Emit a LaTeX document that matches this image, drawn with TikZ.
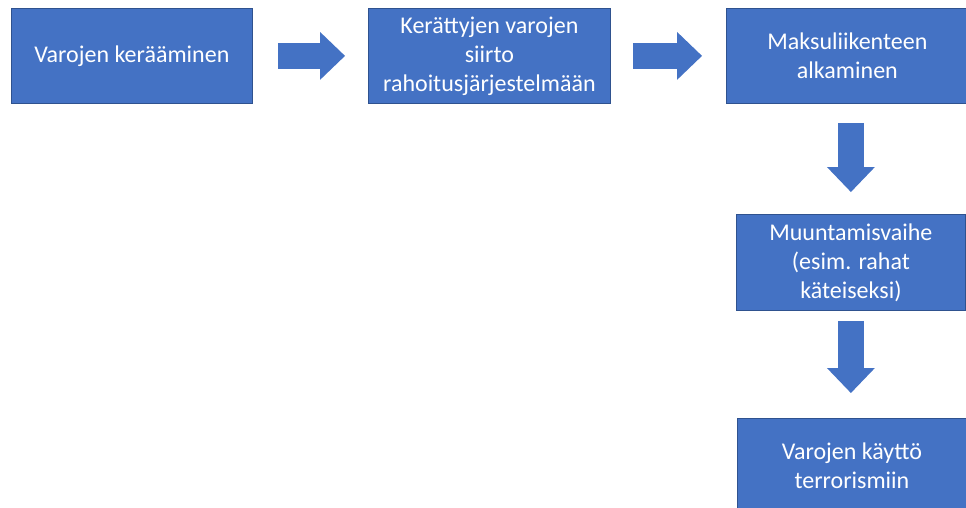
\documentclass[tikz,border=0pt]{standalone}
\usepackage{fontspec}
\setmainfont{Carlito}
\usetikzlibrary{arrows.meta}

\definecolor{boxblue}{HTML}{4472C4}
\definecolor{boxedge}{HTML}{2F528F}

\tikzset{
  stage/.style={draw=boxedge, line width=0.8pt, fill=boxblue, text=white,
    anchor=north west, align=center, inner sep=0pt,
    font=\fontsize{24}{29}\selectfont},
  fatarrow/.style={draw=boxblue, line width=26pt,
    -{Triangle[width=48pt,length=25pt,line width=0pt]}}
}

\begin{document}
\begin{tikzpicture}[x=1pt, y=-1pt]
      \useasboundingbox (0,0) rectangle (966,508);

      % the stages
      \node[stage, minimum width=241pt, minimum height=95pt] (collect) at (11,8) {Varojen kerääminen};
      \node[stage, minimum width=242pt, minimum height=95pt] (transfer) at (368,8) {Kerättyjen varojen\\siirto\\rahoitusjärjestelmään};
      \node[stage, minimum width=242pt, minimum height=95pt] (payments) at (726,8) {Maksuliikenteen\\alkaminen};
      \node[stage, minimum width=229pt, minimum height=96pt] (convert) at (736,214) {Muuntamisvaihe\\(esim. rahat\\käteiseksi)};
      \node[stage, minimum width=229pt, minimum height=95pt] (use) at (737,418) {Varojen käyttö\\terrorismiin};

      % block arrows
      \draw[fatarrow, shorten <=25pt, shorten >=23pt] (collect) -- (transfer);
      \draw[fatarrow, shorten <=22pt, shorten >=24pt] (transfer) -- (payments);
      \draw[fatarrow, shorten <=19pt, shorten >=22pt] (convert.north |- payments.south) -- (convert);
      \draw[fatarrow, shorten <=10pt, shorten >=25pt] (convert.south) -- (convert.south |- use.north);
    \end{tikzpicture}
\end{document}
